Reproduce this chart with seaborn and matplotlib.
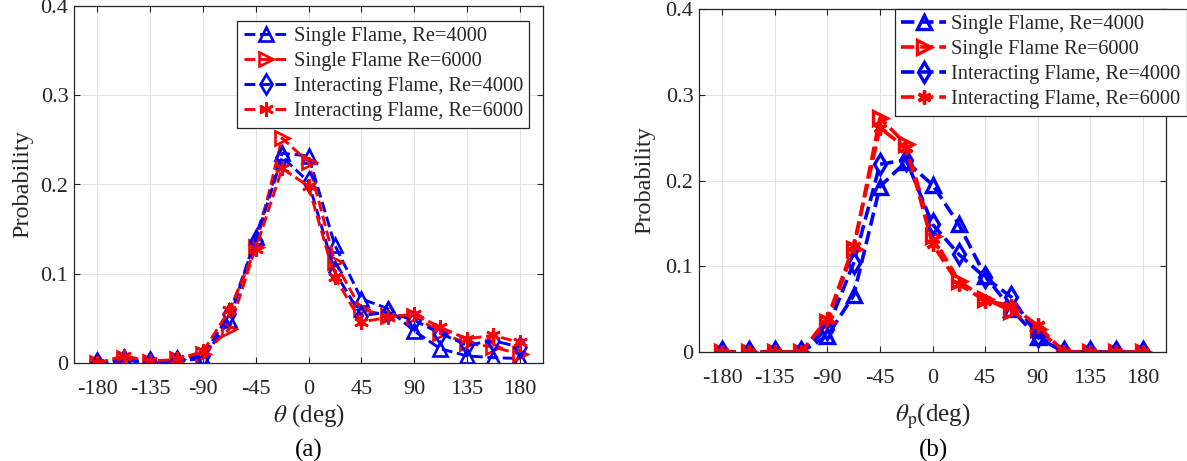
import numpy as np
import pandas as pd
import matplotlib
matplotlib.use("Agg")
import matplotlib.pyplot as plt
import seaborn as sns

# Angle bins (deg)
angles = [-180, -157.5, -135, -112.5, -90, -67.5, -45, -22.5, 0,
          22.5, 45, 67.5, 90, 112.5, 135, 157.5, 180]

# (a) flame angle theta
a_single_4000 = [0.000, 0.003, 0.001, 0.002, 0.005, 0.048, 0.141, 0.235, 0.232,
                 0.132, 0.072, 0.061, 0.036, 0.016, 0.008, 0.006, 0.005]
a_single_6000 = [0.000, 0.006, 0.001, 0.004, 0.010, 0.038, 0.130, 0.252, 0.225,
                 0.113, 0.060, 0.053, 0.053, 0.034, 0.022, 0.018, 0.010]
a_inter_4000 = [0.000, 0.003, 0.001, 0.002, 0.008, 0.055, 0.137, 0.231, 0.203,
                0.102, 0.053, 0.057, 0.048, 0.033, 0.020, 0.025, 0.018]
a_inter_6000 = [0.000, 0.008, 0.002, 0.004, 0.013, 0.059, 0.128, 0.218, 0.198,
                0.096, 0.046, 0.051, 0.055, 0.040, 0.027, 0.031, 0.023]

# (b) propagation angle theta_p
b_single_4000 = [0.000, 0.000, 0.000, 0.000, 0.019, 0.066, 0.193, 0.222, 0.195,
                 0.149, 0.089, 0.050, 0.017, 0.000, 0.000, 0.000, 0.000]
b_single_6000 = [0.000, 0.000, 0.000, 0.000, 0.035, 0.120, 0.273, 0.242, 0.135,
                 0.083, 0.062, 0.048, 0.027, 0.000, 0.000, 0.000, 0.000]
b_inter_4000 = [0.000, 0.000, 0.000, 0.000, 0.027, 0.104, 0.219, 0.224, 0.149,
                0.114, 0.087, 0.064, 0.019, 0.000, 0.000, 0.000, 0.000]
b_inter_6000 = [0.000, 0.000, 0.000, 0.000, 0.039, 0.124, 0.261, 0.238, 0.126,
                0.079, 0.060, 0.054, 0.031, 0.000, 0.000, 0.000, 0.000]

labels = ["Single Flame, Re=4000", "Single Flame Re=6000",
          "Interacting Flame, Re=4000", "Interacting Flame, Re=6000"]
colors = ["#0000ff", "#ff0000", "#0000ff", "#ff0000"]
markers = ["^", ">", "d", (6, 2, 0)]

x_ticks = [-180, -135, -90, -45, 0, 45, 90, 135, 180]
y_ticks = [0, 0.1, 0.2, 0.3, 0.4]
y_ticklabels = ["0", "0.1", "0.2", "0.3", "0.4"]

sns.set_theme(style="whitegrid")
plt.rcParams["font.family"] = ["Liberation Serif", "DejaVu Serif"]
plt.rcParams["mathtext.fontset"] = "stix"

W, H = 1187, 461
fig = plt.figure(figsize=(W / 100, H / 100), dpi=100)
ax_a = fig.add_axes([74 / W, 1 - 363 / H, 469 / W, 357 / H])
ax_b = fig.add_axes([699 / W, 1 - 352 / H, 467 / W, 343 / H])

TEXT = "#262626"


def draw_panel(ax, series, lw, ms, mew, dashes):
    for vals, lab, col, mk in zip(series, labels, colors, markers):
        df = pd.DataFrame({"angle": angles, "prob": vals})
        sns.lineplot(data=df, x="angle", y="prob", ax=ax, color=col,
                     linestyle="--", linewidth=lw, marker=mk, markersize=ms,
                     markerfacecolor="none", markeredgecolor=col,
                     markeredgewidth=mew, label=lab, dashes=dashes)
    ax.set_xlim(-200, 200)
    ax.set_ylim(0, 0.4)
    ax.set_xticks(x_ticks)
    ax.set_xticklabels([str(t) for t in x_ticks])
    ax.set_yticks(y_ticks)
    ax.set_yticklabels(y_ticklabels)
    ax.set_facecolor("white")
    ax.grid(True, color="#e3e3e3", linewidth=0.7)
    for s in ax.spines.values():
        s.set_visible(True)
        s.set_color(TEXT)
        s.set_linewidth(0.9)
    ax.tick_params(direction="in", length=4, width=0.8, colors=TEXT,
                   labelsize=16, top=True, right=True, bottom=True, left=True)
    ax.tick_params(axis="x", pad=12)
    ax.tick_params(axis="y", pad=4)
    ax.set_ylabel("Probability", fontsize=17.5, color=TEXT)


draw_panel(ax_a, [a_single_4000, a_single_6000, a_inter_4000, a_inter_6000],
           lw=2.1, ms=10.5, mew=1.9, dashes=(2.8, 1.8))
draw_panel(ax_b, [b_single_4000, b_single_6000, b_inter_4000, b_inter_6000],
           lw=2.6, ms=10, mew=2.4, dashes=(2.4, 1.5))

ax_a.yaxis.set_label_coords((33 - 74) / 469, 0.5)
ax_b.yaxis.set_label_coords((655 - 699) / 467, 0.5)

ax_a.set_xlabel(r"$\theta$ (deg)", fontsize=18, color=TEXT)
ax_b.set_xlabel(r"$\theta_{\mathrm{p}}$(deg)", fontsize=18, color=TEXT)
ax_a.xaxis.set_label_coords(0.5, (363 - 402) / 357)
ax_b.xaxis.set_label_coords(0.5, (352 - 402) / 343)

leg_kw = dict(fontsize=14.7, frameon=True, fancybox=False, edgecolor=TEXT,
              framealpha=1, handlelength=2.2, handletextpad=0.25,
              borderpad=0.3, labelspacing=0.28, borderaxespad=0.0)
leg_a = ax_a.legend(loc="upper right",
                    bbox_to_anchor=((529 - 74) / 469, (363 - 21) / 357),
                    **leg_kw)
leg_b = ax_b.legend(loc="upper left",
                    bbox_to_anchor=((895 - 699) / 467, 1.0), **leg_kw)
for leg in (leg_a, leg_b):
    leg.get_frame().set_linewidth(0.9)

fig.text(309 / W, 1 - 450 / H, "(a)", ha="center", va="center",
         fontsize=18, color="black")
fig.text(933 / W, 1 - 450 / H, "(b)", ha="center", va="center",
         fontsize=18, color="black")

fig.savefig("out.png", dpi=100)
